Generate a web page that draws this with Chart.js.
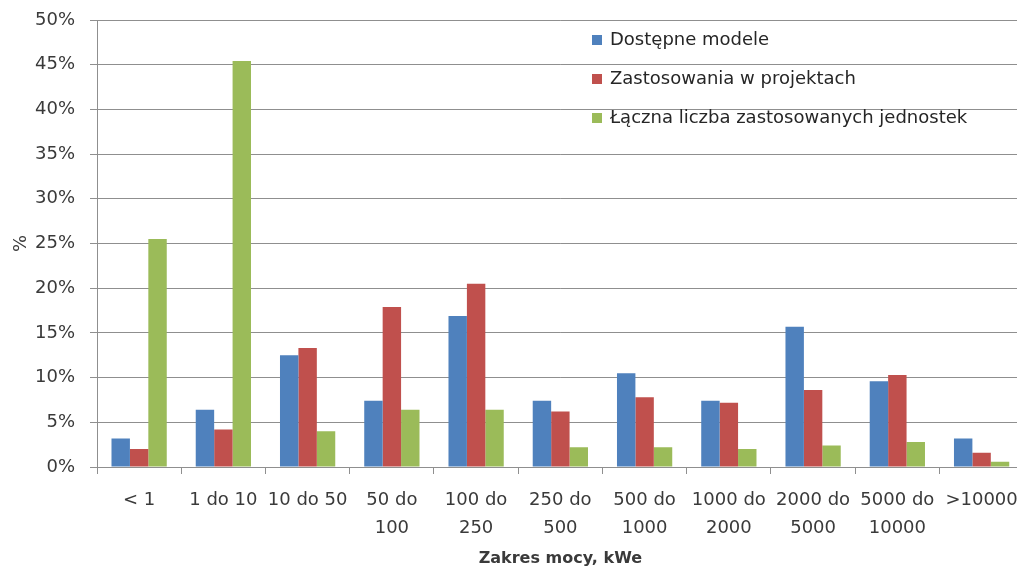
<!DOCTYPE html>
<html>
<head>
<meta charset="utf-8">
<script src="https://cdn.jsdelivr.net/npm/chart.js@4.4.1/dist/chart.umd.min.js"></script>
<style>
  html, body { margin: 0; padding: 0; background: #ffffff; overflow: hidden; }
  #wrap { position: relative; width: 1030px; height: 572px; }
</style>
</head>
<body>
<div id="wrap"><canvas id="chart" width="1030" height="572"></canvas></div>
<script>
// Power ranges (kWe) on the category axis
const categories = [
  '< 1', '1 do 10', '10 do 50',
  ['50 do', '100'], ['100 do', '250'], ['250 do', '500'], ['500 do', '1000'],
  ['1000 do', '2000'], ['2000 do', '5000'], ['5000 do', '10000'], '>10000'
];

// Share of each range, in percent
const dostepneModele = [3.2, 6.4, 12.5, 7.4, 16.9, 7.4, 10.5, 7.4, 15.7, 9.6, 3.2];
const zastosowaniaWProjektach = [2.0, 4.2, 13.3, 17.9, 20.5, 6.2, 7.8, 7.2, 8.6, 10.3, 1.6];
const lacznaLiczbaJednostek = [25.5, 45.4, 4.0, 6.4, 6.4, 2.2, 2.2, 2.0, 2.4, 2.8, 0.6];

const seriesNames = ['Dostępne modele', 'Zastosowania w projektach', 'Łączna liczba zastosowanych jednostek'];
const seriesColors = ['#4F81BD', '#C0504D', '#9BBB59'];

// Value axis: 0%..50% every 5%
const yMin = 0, yMax = 50, yStep = 5;

const textColor = '#3a3a3a';
const gridColor = '#8f8f8f';
const fontFamily = "'DejaVu Sans', sans-serif";

// Vertical legend drawn inside the plot, top right
const insideLegend = {
  id: 'insideLegend',
  afterDraw(chart) {
    const ctx = chart.ctx;
    ctx.save();
    ctx.font = '18px ' + fontFamily;
    ctx.textBaseline = 'middle';
    ctx.textAlign = 'left';
    const x0 = 592, y0 = 40, gap = 39, box = 10;
    chart.data.datasets.forEach((ds, i) => {
      const cy = y0 + i * gap;
      ctx.fillStyle = ds.backgroundColor;
      ctx.fillRect(x0, cy - box / 2, box, box);
      ctx.fillStyle = '#262626';
      ctx.fillText(ds.label, x0 + 18, cy);
    });
    ctx.restore();
  }
};

new Chart(document.getElementById('chart'), {
  type: 'bar',
  data: {
    labels: categories,
    datasets: [
      { label: seriesNames[0], data: dostepneModele, backgroundColor: seriesColors[0] },
      { label: seriesNames[1], data: zastosowaniaWProjektach, backgroundColor: seriesColors[1] },
      { label: seriesNames[2], data: lacznaLiczbaJednostek, backgroundColor: seriesColors[2] }
    ]
  },
  options: {
    responsive: false,
    animation: false,
    layout: { padding: { top: 20, right: 5, bottom: 0, left: 0 } },
    datasets: {
      bar: { categoryPercentage: 0.656, barPercentage: 1.0, borderWidth: 0 }
    },
    plugins: {
      legend: { display: false },
      tooltip: { enabled: false }
    },
    scales: {
      x: {
        offset: true,
        grid: {
          display: true,
          drawOnChartArea: false,
          drawTicks: true,
          tickLength: 7,
          color: gridColor,
          offset: true
        },
        border: { display: true, color: gridColor, width: 1 },
        ticks: {
          autoSkip: false,
          maxRotation: 0,
          minRotation: 0,
          padding: 12,
          color: textColor,
          font: { family: fontFamily, size: 18, lineHeight: 1.55 }
        },
        title: {
          display: true,
          text: 'Zakres mocy, kWe',
          color: textColor,
          font: { family: fontFamily, size: 16, weight: 'bold', lineHeight: 1.2 },
          padding: { top: 4, bottom: 4 }
        },
        afterFit(scale) { scale.height = 572 - 467; }
      },
      y: {
        min: yMin,
        max: yMax,
        grid: {
          color: gridColor,
          lineWidth: 1,
          drawTicks: true,
          tickLength: 7
        },
        border: { display: true, color: gridColor, width: 1 },
        ticks: {
          stepSize: yStep,
          padding: 15,
          color: textColor,
          font: { family: fontFamily, size: 18 },
          callback: (v) => v + '%'
        },
        title: {
          display: true,
          text: '%',
          color: textColor,
          font: { family: fontFamily, size: 18, lineHeight: 1.2 },
          padding: { top: 11, bottom: 0 }
        },
        afterFit(scale) {
          scale.width = 97;
          scale.paddingTop = 0;
          scale.paddingBottom = 0;
        }
      }
    }
  },
  plugins: [insideLegend]
});
</script>
</body>
</html>
